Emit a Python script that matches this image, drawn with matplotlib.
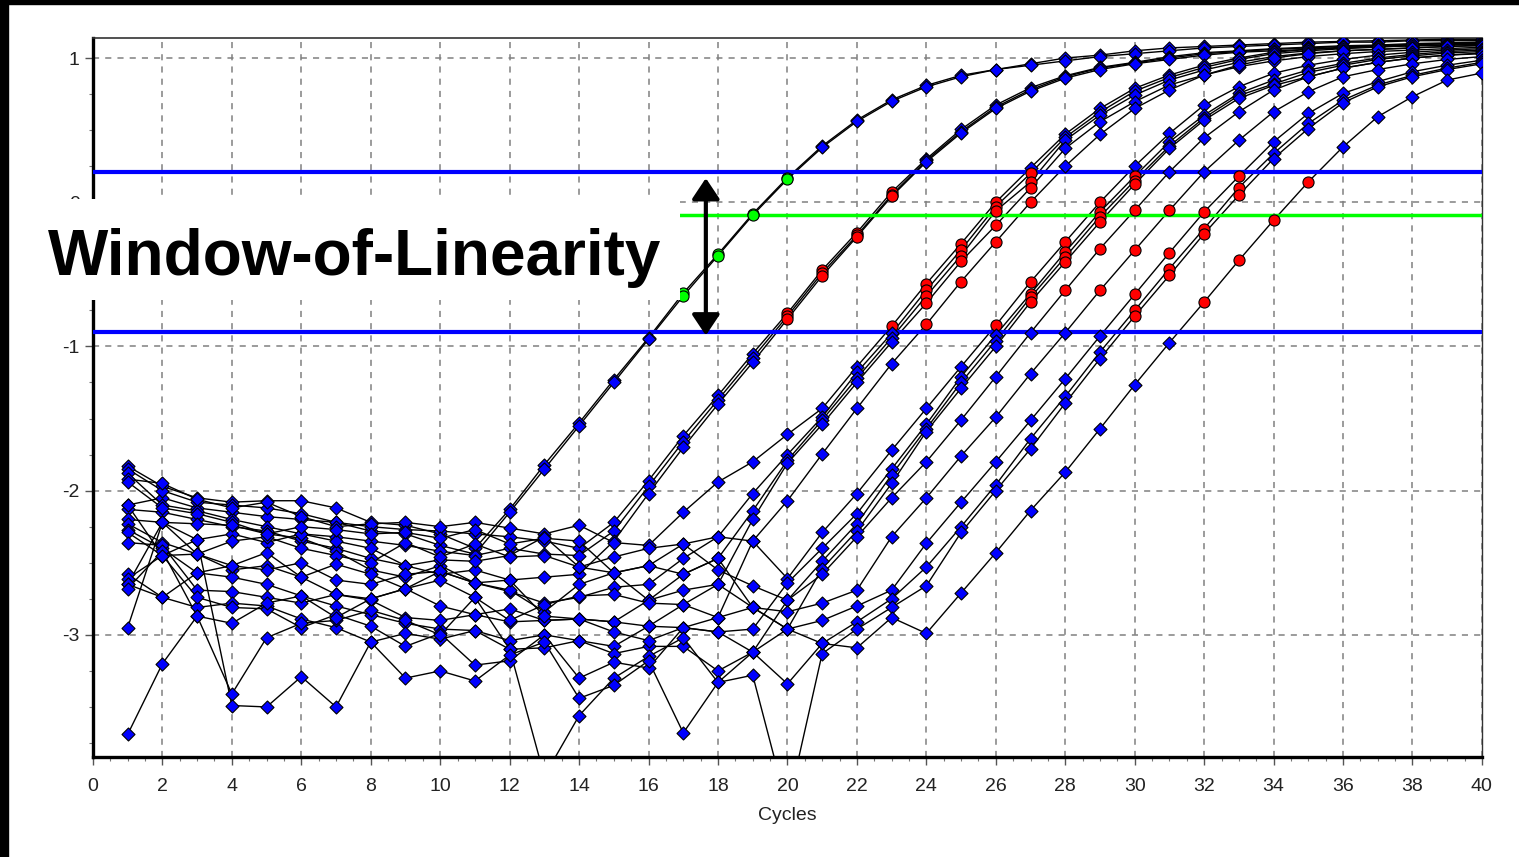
import matplotlib
matplotlib.use('Agg')
import matplotlib.pyplot as plt
from matplotlib.patches import Rectangle
from matplotlib.ticker import MultipleLocator

plt.rcParams['font.family'] = ['Liberation Sans', 'DejaVu Sans']
plt.rcParams['axes.unicode_minus'] = False

# Cycle numbers
cycles = list(range(1, 41))

# Window limits (log fluorescence)
upper_limit = 0.208
lower_limit = -0.903
green_limit = -0.088

# Earliest curves (green points inside window)
a1 = [-1.83, -1.97, -2.05, -2.08, -2.07, -2.07, -2.12, -2.22, -2.24, -2.30,
      -2.40, -2.13, -1.82, -1.53, -1.23, -0.94, -0.63, -0.36, -0.08, 0.17,
      0.39, 0.57, 0.71, 0.81, 0.88, 0.92, 0.96, 1.00, 1.02, 1.05,
      1.07, 1.08, 1.09, 1.10, 1.11, 1.115, 1.12, 1.125, 1.13, 1.13]
a2 = [-2.10, -2.05, -2.12, -2.15, -2.18, -2.20, -2.22, -2.28, -2.30, -2.38,
      -2.44, -2.15, -1.85, -1.55, -1.25, -0.95, -0.65, -0.37, -0.09, 0.16,
      0.38, 0.56, 0.70, 0.80, 0.87, 0.92, 0.95, 0.98, 1.01, 1.03,
      1.05, 1.07, 1.08, 1.09, 1.10, 1.11, 1.11, 1.12, 1.12, 1.12]

# Second group
b1 = [-1.85, -2.00, -2.08, -2.10, -2.12, -2.16, -2.22, -2.25, -2.27, -2.28,
      -2.30, -2.32, -2.35, -2.40, -2.22, -1.93, -1.62, -1.34, -1.05, -0.77,
      -0.47, -0.21, 0.07, 0.30, 0.505, 0.674, 0.794, 0.877, 0.935, 0.97,
      1.009, 1.037, 1.05, 1.065, 1.075, 1.085, 1.09, 1.10, 1.105, 1.11]
b2 = [-1.88, -2.10, -2.14, -2.20, -2.25, -2.30, -2.32, -2.35, -2.38, -2.42,
      -2.45, -2.40, -2.44, -2.45, -2.28, -1.97, -1.66, -1.37, -1.08, -0.79,
      -0.49, -0.23, 0.05, 0.29, 0.49, 0.66, 0.78, 0.87, 0.93, 0.965,
      1.0, 1.03, 1.045, 1.06, 1.07, 1.08, 1.085, 1.09, 1.10, 1.10]
b3 = [-2.13, -2.15, -2.20, -2.25, -2.28, -2.35, -2.40, -2.47, -2.52, -2.58,
      -2.55, -2.62, -2.60, -2.58, -2.35, -2.02, -1.70, -1.40, -1.11, -0.81,
      -0.51, -0.24, 0.04, 0.28, 0.48, 0.65, 0.77, 0.86, 0.92, 0.96,
      0.99, 1.02, 1.04, 1.05, 1.06, 1.07, 1.08, 1.085, 1.09, 1.095]

# Third group
c1 = [-1.92, -1.95, -2.06, -2.12, -2.08, -2.18, -2.25, -2.23, -2.22, -2.25,
      -2.22, -2.26, -2.30, -2.24, -2.36, -2.38, -2.15, -1.94, -1.80, -1.61,
      -1.43, -1.14, -0.86, -0.565, -0.287, 0.0, 0.238, 0.472, 0.65, 0.79,
      0.882, 0.951, 1.0, 1.04, 1.06, 1.075, 1.085, 1.095, 1.10, 1.105]
c2 = [-1.94, -2.12, -2.16, -2.22, -2.30, -2.33, -2.42, -2.55, -2.60, -2.52,
      -2.64, -2.70, -2.78, -2.74, -2.67, -2.65, -2.47, -2.32, -2.02, -1.75,
      -1.49, -1.18, -0.91, -0.61, -0.33, -0.03, 0.20, 0.45, 0.625, 0.77,
      0.865, 0.935, 0.99, 1.03, 1.05, 1.065, 1.075, 1.085, 1.09, 1.10]
c3 = [-2.20, -2.22, -2.34, -2.30, -2.36, -2.30, -2.35, -2.40, -2.52, -2.48,
      -2.49, -2.45, -2.32, -2.53, -2.57, -2.52, -2.58, -2.47, -2.14, -1.79,
      -1.51, -1.22, -0.94, -0.65, -0.37, -0.06, 0.141, 0.43, 0.604, 0.743,
      0.847, 0.917, 0.97, 1.01, 1.035, 1.05, 1.06, 1.07, 1.08, 1.09]
c4 = [-2.23, -2.36, -2.44, -2.55, -2.52, -2.60, -2.72, -2.75, -2.68, -2.80,
      -2.86, -2.82, -2.90, -2.89, -2.91, -2.76, -2.69, -2.65, -2.20, -1.81,
      -1.54, -1.25, -0.97, -0.70, -0.41, -0.16, 0.10, 0.373, 0.558, 0.697,
      0.813, 0.882, 0.94, 0.98, 1.01, 1.03, 1.045, 1.055, 1.065, 1.075]
c5 = [-2.27, -2.40, -2.57, -2.60, -2.65, -2.73, -2.80, -2.86, -2.92, -2.96,
      -2.97, -3.04, -3.00, -3.04, -3.08, -2.94, -2.79, -2.88, -2.35, -2.07,
      -1.746, -1.43, -1.12, -0.847, -0.55, -0.275, 0.0, 0.25, 0.47, 0.65,
      0.778, 0.882, 0.951, 1.0, 1.03, 1.05, 1.06, 1.07, 1.08, 1.085]

# Fourth group
d1 = [-2.29, -2.45, -2.44, -2.35, -2.32, -2.40, -2.45, -2.50, -2.36, -2.46,
      -2.37, -2.46, -2.45, -2.53, -2.46, -2.40, -2.37, -2.32, -2.35, -2.61,
      -2.29, -2.02, -1.72, -1.43, -1.14, -0.854, -0.553, -0.275, 0.0, 0.25,
      0.477, 0.674, 0.801, 0.894, 0.95, 0.99, 1.02, 1.04, 1.055, 1.065]
d2 = [-2.36, -2.38, -2.69, -2.70, -2.74, -2.78, -2.72, -2.76, -2.88, -2.90,
      -2.86, -2.91, -2.90, -2.89, -2.91, -2.94, -2.95, -2.98, -2.96, -2.64,
      -2.40, -2.16, -1.85, -1.54, -1.21, -0.92, -0.634, -0.345, -0.067, 0.18,
      0.419, 0.604, 0.755, 0.847, 0.917, 0.963, 1.0, 1.025, 1.045, 1.055]
d3 = [-2.58, -2.74, -2.81, -2.78, -2.80, -2.89, -2.95, -3.05, -2.99, -3.03,
      -2.97, -3.10, -3.09, -3.04, -3.13, -3.08, -3.08, -3.25, -3.12, -2.76,
      -2.49, -2.23, -1.89, -1.57, -1.25, -0.96, -0.66, -0.38, -0.10, 0.15,
      0.39, 0.585, 0.74, 0.82, 0.90, 0.95, 0.99, 1.015, 1.035, 1.045]
d4 = [-2.61, -2.45, -2.74, -2.81, -2.82, -2.95, -2.86, -2.94, -3.08, -2.99,
      -3.21, -3.18, -3.00, -3.30, -3.19, -3.23, -2.95, -2.88, -2.81, -2.96,
      -2.54, -2.28, -1.95, -1.59, -1.29, -1.0, -0.692, -0.414, -0.137, 0.125,
      0.373, 0.569, 0.72, 0.81, 0.87, 0.93, 0.97, 1.0, 1.02, 1.035]
g1 = [-2.65, -2.22, -2.23, -2.24, -2.30, -2.25, -2.27, -2.30, -2.29, -2.33,
      -2.27, -2.37, -2.33, -2.35, -2.57, -2.52, -2.37, -2.55, -2.66, -2.76,
      -2.58, -2.32, -2.05, -1.80, -1.51, -1.21, -0.905, -0.611, -0.322, -0.056,
      0.211, 0.447, 0.627, 0.778, 0.87, 0.93, 0.97, 1.0, 1.02, 1.03]

# Fifth group
e1 = [-2.65, -2.74, -2.57, -2.52, -2.55, -2.50, -2.62, -2.65, -2.58, -2.56,
      -2.64, -2.69, -2.84, -2.65, -2.57, -2.76, -2.58, -2.47, -2.81, -2.84,
      -2.78, -2.69, -2.32, -2.05, -1.76, -1.49, -1.189, -0.905, -0.611, -0.333,
      -0.056, 0.211, 0.43, 0.627, 0.766, 0.87, 0.92, 0.96, 0.99, 1.01]
e2 = [-2.68, -2.42, -2.87, -3.41, -3.02, -2.92, -2.90, -2.83, -2.90, -3.00,
      -2.74, -2.90, -2.79, -2.73, -2.72, -2.78, -2.79, -2.65, -2.81, -2.96,
      -2.90, -2.80, -2.69, -2.365, -2.08, -1.80, -1.513, -1.224, -0.928, -0.639,
      -0.35, -0.067, 0.18, 0.419, 0.616, 0.755, 0.836, 0.905, 0.95, 0.985]
e3 = [-2.95, -2.22, -2.44, -2.52, -2.43, -2.60, -2.51, -2.58, -2.68, -2.56,
      -2.64, -2.62, -2.87, -2.89, -2.98, -3.04, -2.95, -2.98, -3.12, -2.96,
      -3.06, -2.91, -2.75, -2.53, -2.25, -1.96, -1.64, -1.347, -1.039, -0.75,
      -0.46, -0.183, 0.102, 0.338, 0.546, 0.708, 0.813, 0.88, 0.93, 0.97]
e4 = [-3.69, -3.20, -2.87, -2.92, -2.78, -2.73, -2.88, -2.75, -2.68, -2.62,
      -2.74, -3.10, -3.98, -3.56, -3.30, -3.15, -3.02, -3.33, -3.28, -4.20,
      -3.13, -2.96, -2.81, -2.66, -2.29, -2.0, -1.71, -1.393, -1.085, -0.79,
      -0.507, -0.218, 0.049, 0.303, 0.511, 0.69, 0.80, 0.87, 0.92, 0.96]

# Latest curve
f1 = [-2.10, -2.45, -2.34, -3.49, -3.50, -3.29, -3.50, -3.05, -3.30, -3.25,
      -3.32, -3.14, -3.05, -3.44, -3.35, -3.18, -3.68, -3.33, -3.12, -3.34,
      -3.06, -3.09, -2.88, -2.99, -2.71, -2.43, -2.138, -1.872, -1.571, -1.266,
      -0.974, -0.692, -0.403, -0.125, 0.141, 0.384, 0.593, 0.732, 0.847, 0.896]

curves = [a1, a2, b1, b2, b3, c1, c2, c3, c4, c5,
          d1, d2, d3, d4, g1, e1, e2, e3, e4, f1]
early = [a1, a2]

fig = plt.figure(figsize=(15.19, 8.57), dpi=100)
ax = fig.add_axes([0.0612, 0.1167, 0.9144, 0.8390])

# Lines
for curve in curves:
    ax.plot(cycles, curve, color='black', lw=1.0, zorder=3)

# Window limit lines
ax.axhline(upper_limit, color='#0000FF', lw=3, zorder=3.5)
ax.axhline(lower_limit, color='#0000FF', lw=3, zorder=3.5)
ax.axhline(green_limit, color='#00FF00', lw=2.5, zorder=3.5)

# Points, colored by window
for curve in curves:
    bx, by, wx, wy = [], [], [], []
    for c, v in zip(cycles, curve):
        if lower_limit <= v <= upper_limit:
            wx.append(c)
            wy.append(v)
        else:
            bx.append(c)
            by.append(v)
    ax.scatter(bx, by, marker='D', s=44, c='#0000FF', edgecolors='black',
               linewidths=0.8, zorder=5)
    col = '#00FF00' if any(curve is e for e in early) else '#FF0000'
    ax.scatter(wx, wy, marker='o', s=64, c=col, edgecolors='black',
               linewidths=0.8, zorder=5)

# Axis range and ticks
ax.set_xlim(0, 40)
ax.set_ylim(-3.847, 1.139)
ax.set_xticks(range(0, 41, 2))
ax.xaxis.set_minor_locator(MultipleLocator(0.5))
ax.set_yticks([-3, -2, -1, 0, 1])
ax.yaxis.set_minor_locator(MultipleLocator(0.25))
ax.tick_params(which='major', direction='out', length=6, width=1,
               color='#555555', labelsize=14, labelcolor='#222222')
ax.tick_params(axis='x', which='major', pad=9)
ax.tick_params(which='minor', direction='out', length=3, width=0.8,
               color='#777777')
ax.grid(True, which='major', color='#808080', linestyle=(0, (4, 4)), lw=1.1)

for side in ['left', 'bottom']:
    ax.spines[side].set_linewidth(2.4)
    ax.spines[side].set_color('black')
ax.spines['top'].set_linewidth(1.2)
ax.spines['top'].set_color('#333333')
ax.spines['right'].set_linewidth(1.0)
ax.spines['right'].set_color('#333333')

ax.set_xlabel('Cycles', fontsize=14, color='#222222')
ax.xaxis.set_label_coords(0.5, -0.069)

# White label box and title
ax.add_patch(Rectangle((-2.45, -0.678), 19.35, 0.70, facecolor='white',
                       edgecolor='none', clip_on=False, zorder=6))
ax.text(-1.3, -0.504, 'Window-of-Linearity', fontsize=46, fontweight='bold',
        ha='left', va='baseline', zorder=7, clip_on=False)

# Double arrow
ax.annotate('', xy=(17.65, 0.167), xytext=(17.65, -0.924),
            arrowprops=dict(arrowstyle='<|-|>,head_length=0.45,head_width=0.3',
                            color='black', lw=3, mutation_scale=28,
                            shrinkA=0, shrinkB=0), zorder=7)

# Black frame edges of the screenshot
fig.patches.append(Rectangle((0, 0), 8 / 1519, 1, transform=fig.transFigure,
                             color='black', zorder=10))
fig.patches.append(Rectangle((0, 1 - 4 / 857), 1, 4 / 857,
                             transform=fig.transFigure, color='black', zorder=10))

fig.savefig('out.png', dpi=100)
